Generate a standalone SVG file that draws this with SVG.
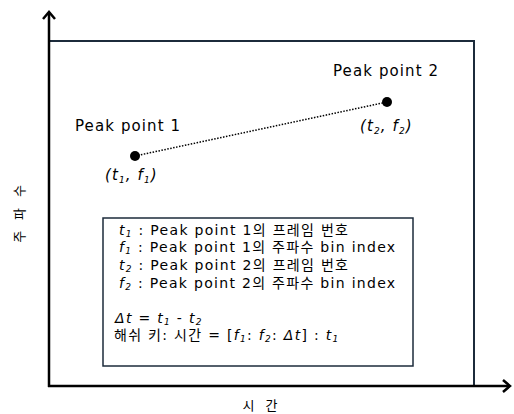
<svg xmlns="http://www.w3.org/2000/svg" width="514" height="414" viewBox="0 0 514 414">
<style>
.lbl{font-family:"DejaVu Sans","Noto Sans CJK KR",sans-serif;font-size:15px;fill:#000;letter-spacing:1.1px}
.txt{font-family:"DejaVu Sans","Noto Sans CJK KR",sans-serif;font-size:14px;fill:#000;letter-spacing:1.3px}
.it{font-style:italic}
.sub{font-size:9px;font-style:italic}
.kr{font-family:"Noto Sans CJK KR",sans-serif;font-size:13px;fill:#000;letter-spacing:4px}
.axis{stroke:#000;stroke-width:2.5;fill:none}
.frame{stroke:#1c2b3b;stroke-width:2;fill:#fff}
</style>
<rect width="514" height="414" fill="#fff"/>
<g id="frame"><rect class="frame" x="49" y="41" width="425" height="345"/></g>
<g id="axes">
<line class="axis" x1="49" y1="12" x2="49" y2="387"/>
<line class="axis" x1="48" y1="386" x2="510" y2="386"/>
<polyline class="axis" points="43,19 49,12 55,19"/>
<polyline class="axis" points="503,380 510,386 503,392"/>
</g>
<g id="connectors">
<line x1="135" y1="156" x2="387" y2="102" stroke="#000" stroke-width="1.5" stroke-dasharray="1.5 1.5"/>
</g>
<g id="peak1">
<circle cx="135" cy="156" r="5" fill="#000"/>
<text class="lbl" x="75" y="131">Peak point 1</text>
<text class="lbl it" x="105" y="180">(t<tspan class="sub" dy="3">1</tspan><tspan dy="-3">, f</tspan><tspan class="sub" dy="3">1</tspan><tspan dy="-3">)</tspan></text>
</g>
<g id="peak2">
<circle cx="387" cy="102" r="5" fill="#000"/>
<text class="lbl" x="333" y="76">Peak point 2</text>
<text class="lbl it" x="360" y="131">(t<tspan class="sub" dy="3">2</tspan><tspan dy="-3">, f</tspan><tspan class="sub" dy="3">2</tspan><tspan dy="-3">)</tspan></text>
</g>
<g id="legend">
<rect x="103" y="218" width="310" height="148" fill="#fff" stroke="#1c2b3b" stroke-width="1.5"/>
<text class="txt" x="119" y="235"><tspan class="it">t</tspan><tspan class="sub" dy="2">1</tspan><tspan dy="-2"> : Peak point 1의 프레임 번호</tspan></text>
<text class="txt" x="119" y="252"><tspan class="it">f</tspan><tspan class="sub" dy="2">1</tspan><tspan dy="-2"> : Peak point 1의 주파수 bin index</tspan></text>
<text class="txt" x="119" y="270"><tspan class="it">t</tspan><tspan class="sub" dy="2">2</tspan><tspan dy="-2"> : Peak point 2의 프레임 번호</tspan></text>
<text class="txt" x="119" y="288"><tspan class="it">f</tspan><tspan class="sub" dy="2">2</tspan><tspan dy="-2"> : Peak point 2의 주파수 bin index</tspan></text>
<text class="txt" x="115" y="323"><tspan class="it">Δt</tspan> =  <tspan class="it">t</tspan><tspan class="sub" dy="2">1</tspan><tspan dy="-2"> - </tspan><tspan class="it">t</tspan><tspan class="sub" dy="2">2</tspan></text>
<text class="txt" x="114" y="340">해쉬 키: 시간 = [<tspan class="it">f</tspan><tspan class="sub" dy="2">1</tspan><tspan dy="-2">: </tspan><tspan class="it">f</tspan><tspan class="sub" dy="2">2</tspan><tspan dy="-2">: </tspan><tspan class="it">Δt</tspan>] : <tspan class="it">t</tspan><tspan class="sub" dy="2">1</tspan></text>
</g>
<g id="y-label"><text class="kr" transform="translate(24,212) rotate(-90)" text-anchor="middle">주 파 수</text></g>
<g id="x-label"><text class="kr" x="262" y="410" text-anchor="middle">시 간</text></g>
</svg>
